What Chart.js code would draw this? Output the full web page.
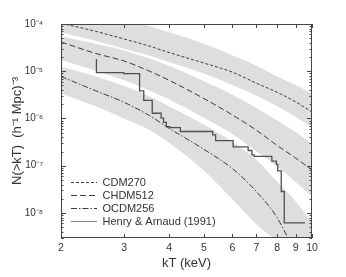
<!DOCTYPE html>
<html><head><meta charset="utf-8">
<script src="https://cdn.jsdelivr.net/npm/chart.js@4/dist/chart.umd.min.js"></script>
<style>html,body{margin:0;padding:0;background:#fff;overflow:hidden}</style>
</head><body>
<canvas id="c" width="346" height="277" style="width:346px;height:277px;display:block"></canvas>
<script>
// ---- data ----
const kTGrid = [2, 2.5, 3, 3.5, 4, 5, 6, 7, 8, 9, 10];
const kTGridOCDM = [2, 2.5, 3, 3.5, 4, 5, 6, 7, 8, 9];
const cdm270 = [1.04e-4, 6.98e-5, 4.80e-5, 3.46e-5, 2.49e-5, 1.49e-5, 9.57e-6, 5.58e-6, 3.58e-6, 2.25e-6, 1.37e-6];
const chdm512 = [4.17e-5, 2.38e-5, 1.64e-5, 1.03e-5, 6.43e-6, 2.64e-6, 1.19e-6, 5.65e-7, 2.68e-7, 1.46e-7, 8.12e-8];
const ocdm256 = [7.75e-6, 3.85e-6, 2.19e-6, 1.19e-6, 6.21e-7, 2.22e-7, 8.71e-8, 2.84e-8, 7.9e-9, 1.36e-9];
const band1Upper = [3.58e-4, 2.05e-4, 1.34e-4, 9.23e-5, 6.66e-5, 3.80e-5, 2.17e-5, 1.30e-5, 7.75e-6, 5.09e-6, 3.34e-6];
const band1Lower = [6.66e-5, 4.37e-5, 3.01e-5, 2.17e-5, 1.56e-5, 8.92e-6, 5.09e-6, 3.04e-6, 1.82e-6, 1.09e-6, 6.50e-7];
const band2Upper = [5.52e-5, 3.80e-5, 2.74e-5, 1.88e-5, 1.30e-5, 6.13e-6, 3.19e-6, 1.66e-6, 9.02e-7, 5.15e-7, 2.94e-7];
const band2Lower = [1.72e-5, 1.03e-5, 6.43e-6, 4.03e-6, 2.52e-6, 1.04e-6, 4.69e-7, 2.02e-7, 9.56e-8, 4.53e-8, 2.24e-8];
const band3Upper = [1.24e-5, 7.75e-6, 4.86e-6, 3.04e-6, 1.82e-6, 7.48e-7, 3.23e-7, 1.33e-7, 4.53e-8, 1.78e-8, 6.35e-9];
const band3Lower = [3.34e-6, 1.82e-6, 9.91e-7, 5.92e-7, 3.08e-7, 7.93e-8, 1.95e-8, 5.79e-9, 2.38e-9, 6.74e-10, 1.66e-10];
const henryKT = [2.51, 2.51, 2.99, 3.31, 3.40, 3.59, 3.80, 3.86, 3.93, 4.02, 4.30, 5.29, 5.39, 6.03, 6.64, 6.80, 6.90, 7.73, 7.96, 8.03, 8.21, 8.37, 9.56];
const henryN = [1.82e-5, 9.35e-6, 8.9e-6, 3.84e-6, 2.41e-6, 1.29e-6, 1.02e-6, 8.3e-7, 6.7e-7, 6.4e-7, 5.3e-7, 4.5e-7, 3.4e-7, 2.5e-7, 2.1e-7, 1.7e-7, 1.58e-7, 1.25e-7, 1.07e-7, 7.8e-8, 2.85e-8, 6.15e-9, 6.15e-9];
const seriesNames = ['CDM270', 'CHDM512', 'OCDM256', 'Henry & Arnaud (1991)'];
const xTicks = [2, 3, 4, 5, 6, 7, 8, 9, 10];
const yTicks = [1e-8, 1e-7, 1e-6, 1e-5, 1e-4];
const yTickLabels = ['10\u207B\u2078', '10\u207B\u2077', '10\u207B\u2076', '10\u207B\u2075', '10\u207B\u2074'];
const xTitle = 'kT (keV)';
const yTitle = 'N(>kT)  (h\u207B\u00B9 Mpc)\u207B\u00B3';

// ---- chart ----
const pts = (xs, ys) => xs.map((x, i) => ({x: x, y: ys[i]}));
const bandColor = '#dedede';
const curveColor = '#3c3c3c';
const font = 'Liberation Sans, Arial, Helvetica, sans-serif';

function band(upper, lower) {
  return [
    {isBand: true, label: 'band', data: pts(kTGrid, upper), borderWidth: 0, pointRadius: 0,
     backgroundColor: bandColor, borderColor: bandColor, fill: '+1', cubicInterpolationMode: 'monotone', order: 10},
    {isBand: true, label: 'band', data: pts(kTGrid, lower), borderWidth: 0, pointRadius: 0,
     backgroundColor: bandColor, borderColor: bandColor, fill: false, cubicInterpolationMode: 'monotone', order: 10}
  ];
}

const datasets = [
  ...band(band1Upper, band1Lower),
  ...band(band2Upper, band2Lower),
  ...band(band3Upper, band3Lower),
  {label: seriesNames[0], data: pts(kTGrid, cdm270), borderColor: curveColor, borderWidth: 1, borderDash: [3, 2],
   pointRadius: 0, fill: false, cubicInterpolationMode: 'monotone', order: 1},
  {label: seriesNames[1], data: pts(kTGrid, chdm512), borderColor: curveColor, borderWidth: 1, borderDash: [6, 3],
   pointRadius: 0, fill: false, cubicInterpolationMode: 'monotone', order: 1},
  {label: seriesNames[2], data: pts(kTGridOCDM, ocdm256), borderColor: curveColor, borderWidth: 1, borderDash: [6, 2, 1.5, 2],
   pointRadius: 0, fill: false, cubicInterpolationMode: 'monotone', order: 1},
  {label: seriesNames[3], data: pts(henryKT, henryN), borderColor: '#505050', borderWidth: 1.3, stepped: 'before',
   pointRadius: 0, fill: false, order: 1, legendColor: '#8a8a8a'}
];

const frameTicks = {
  id: 'frameTicks',
  afterLayout(chart) {
    const lg = chart.legend;
    if (lg) { lg.left += 8; lg.right += 8; lg.top += 15; lg.bottom += 15; }
  },
  afterDatasetsDraw(chart) {
    const {ctx, chartArea: a, scales: {x, y}} = chart;
    ctx.save();
    ctx.strokeStyle = '#444';
    ctx.lineWidth = 1;
    ctx.strokeRect(a.left + 0.5, a.top + 0.5, a.right - a.left - 1, a.bottom - a.top - 1);
    ctx.beginPath();
    xTicks.forEach(v => {
      const px = Math.round(x.getPixelForValue(v)) + 0.5;
      ctx.moveTo(px, a.bottom); ctx.lineTo(px, a.bottom - 4);
      ctx.moveTo(px, a.top); ctx.lineTo(px, a.top + 4);
    });
    for (let e = -9; e <= -4; e++) {
      for (let m = 1; m <= 9; m++) {
        const v = m * Math.pow(10, e);
        if (v < y.min || v > y.max) continue;
        const py = Math.round(y.getPixelForValue(v)) + 0.5;
        const len = m === 1 ? 5 : 2.5;
        ctx.moveTo(a.left, py); ctx.lineTo(a.left + len, py);
        ctx.moveTo(a.right, py); ctx.lineTo(a.right - len, py);
      }
    }
    ctx.stroke();
    ctx.restore();
  }
};

new Chart(document.getElementById('c'), {
  type: 'line',
  data: {datasets},
  options: {
    responsive: false,
    animation: false,
    devicePixelRatio: 1,
    layout: {padding: {top: 15, right: 34, left: 0, bottom: 0}},
    plugins: {
      tooltip: {enabled: false},
      legend: {
        position: 'chartArea',
        align: 'end',
        labels: {
          filter: (item, data) => !data.datasets[item.datasetIndex].isBand,
          generateLabels: chart => {
            const items = Chart.defaults.plugins.legend.labels.generateLabels(chart);
            items.forEach(it => {
              const ds = chart.data.datasets[it.datasetIndex];
              it.lineDash = ds.borderDash || [];
              it.lineWidth = 1;
              it.strokeStyle = ds.legendColor || ds.borderColor;
              it.fillStyle = 'rgba(0,0,0,0)';
              it.pointStyle = 'line';
            });
            return items;
          },
          usePointStyle: true,
          pointStyle: 'line',
          pointStyleWidth: 26,
          padding: 2,
          color: '#333',
          font: {family: font, size: 11}
        }
      }
    },
    scales: {
      x: {
        type: 'logarithmic', min: 2, max: 10,
        afterBuildTicks: s => { s.ticks = xTicks.map(v => ({value: v})); },
        afterFit: s => { s.height = 39; },
        grid: {display: false, drawTicks: false},
        border: {display: false},
        ticks: {color: '#333', font: {family: font, size: 10.5}, padding: 4, maxRotation: 0, autoSkip: false,
                callback: v => String(v)},
        title: {display: true, text: xTitle, color: '#333', font: {family: font, size: 13}, padding: {top: 0, bottom: 6}}
      },
      y: {
        type: 'logarithmic', min: Math.pow(10, -8.53), max: 1e-4,
        afterBuildTicks: s => { s.ticks = yTicks.map(v => ({value: v})); },
        afterFit: s => { s.width = 61; },
        grid: {display: false, drawTicks: false},
        border: {display: false},
        ticks: {color: '#333', font: {family: font, size: 10}, padding: 18, autoSkip: false,
                callback: (v, i) => yTickLabels[i]},
        title: {display: true, text: yTitle, color: '#333', font: {family: font, size: 13}, padding: {top: 10, bottom: 0}}
      }
    }
  },
  plugins: [frameTicks]
});
</script>
</body></html>
